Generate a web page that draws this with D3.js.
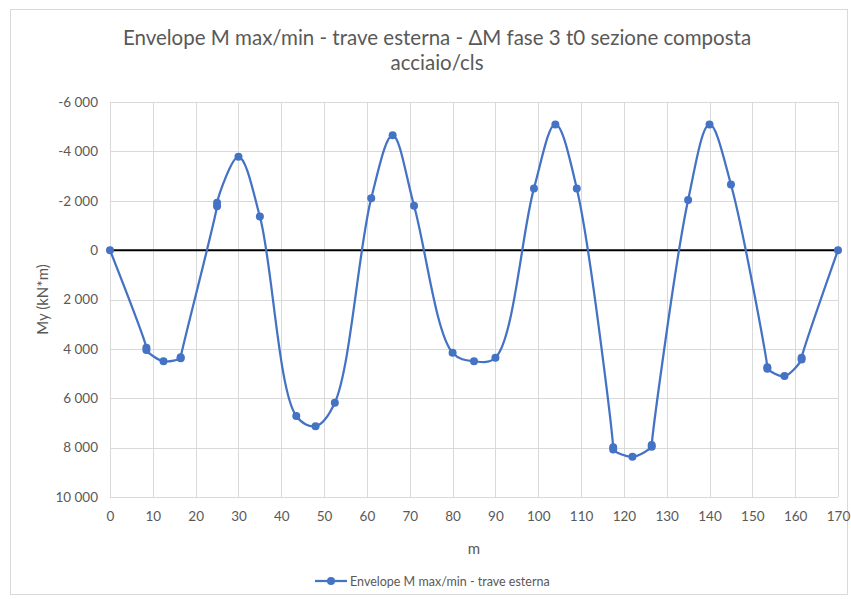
<!DOCTYPE html>
<html>
<head>
<meta charset="utf-8">
<script src="https://cdn.jsdelivr.net/npm/d3@7"></script>
<style>
  html, body { margin: 0; padding: 0; background: #fff; }
  svg { display: block; font-family: Lato, "Open Sans", "Liberation Sans", sans-serif; }
</style>
</head>
<body>
<svg id="chart" width="851" height="599"></svg>
<script>
// Stations along the beam (m) and the bending moment envelope My (kN*m)
const stations = [0, 8.5, 8.5, 12.5, 16.5, 16.5, 25, 25, 30, 35, 43.5, 48, 52.5, 61, 66, 71,
  80, 85, 90, 99, 104, 109, 117.5, 117.5, 122, 126.5, 126.5, 135, 140, 145,
  153.5, 153.5, 157.5, 161.5, 161.5, 170];
const moments = [0, 3950, 4050, 4500, 4380, 4340, -1780, -1920, -3780, -1360, 6720, 7130, 6180, -2100, -4650, -1800,
  4160, 4500, 4360, -2500, -5090, -2500, 7980, 8080, 8370, 7960, 7890, -2030, -5090, -2660,
  4740, 4800, 5100, 4430, 4360, 0];

const xTicks = [0, 10, 20, 30, 40, 50, 60, 70, 80, 90, 100, 110, 120, 130, 140, 150, 160, 170];
const yTicks = [-6000, -4000, -2000, 0, 2000, 4000, 6000, 8000, 10000];

const titleLines = ["Envelope M max/min - trave esterna - \u0394M fase 3 t0 sezione composta", "acciaio/cls"];
const yLabel = "My (kN*m)";
const xLabel = "m";
const seriesName = "Envelope M max/min - trave esterna";

const svg = d3.select("#chart");
const plot = { left: 110, right: 838, top: 102, bottom: 497 };
const blue = "#4472C4", textGrey = "#595959", gridGrey = "#d9d9d9";

// Outer chart frame
svg.append("rect")
  .attr("x", 10.5).attr("y", 9.5).attr("width", 837).attr("height", 585)
  .attr("fill", "#fff").attr("stroke", "#d9d9d9").attr("stroke-width", 1);

const x = d3.scaleLinear().domain([0, 170]).range([plot.left, plot.right]);
const y = d3.scaleLinear().domain([-6000, 10000]).range([plot.top, plot.bottom]);

// Thousands grouped with a space, plain hyphen for negatives
const fmtY = d => d3.format(",")(d).replace(/,/g, " ").replace("\u2212", "-");

// Gridlines
svg.append("g").selectAll("line").data(yTicks).join("line")
  .attr("x1", plot.left).attr("x2", plot.right)
  .attr("y1", d => Math.round(y(d)) + 0.5).attr("y2", d => Math.round(y(d)) + 0.5)
  .attr("stroke", gridGrey).attr("stroke-width", 1);
svg.append("g").selectAll("line").data(xTicks).join("line")
  .attr("x1", d => Math.round(x(d)) + 0.5).attr("x2", d => Math.round(x(d)) + 0.5)
  .attr("y1", plot.top).attr("y2", plot.bottom)
  .attr("stroke", gridGrey).attr("stroke-width", 1);

// Axes (labels only)
const yAxis = d3.axisLeft(y).tickValues(yTicks).tickSize(0).tickPadding(12).tickFormat(fmtY);
svg.append("g").attr("transform", `translate(${plot.left},0)`).call(yAxis)
  .call(g => g.select(".domain").remove())
  .call(g => g.selectAll("text").attr("fill", textGrey).style("font-size", "13.5px")
    .style("font-family", "Lato, 'Open Sans', sans-serif"));

const xAxis = d3.axisBottom(x).tickValues(xTicks).tickSize(0).tickPadding(14).tickFormat(d3.format("d"));
svg.append("g").attr("transform", `translate(0,${plot.bottom})`).call(xAxis)
  .call(g => g.select(".domain").remove())
  .call(g => g.selectAll("text").attr("fill", textGrey).style("font-size", "13.5px")
    .style("font-family", "Lato, 'Open Sans', sans-serif"));

// Zero line
svg.append("line")
  .attr("x1", plot.left).attr("x2", plot.right)
  .attr("y1", y(0)).attr("y2", y(0))
  .attr("stroke", "#000").attr("stroke-width", 2);

// Series
const pts = stations.map((s, i) => [s, moments[i]]);
const line = d3.line().x(d => x(d[0])).y(d => y(d[1])).curve(d3.curveCatmullRom.alpha(0.5));
svg.append("path").datum(pts)
  .attr("d", line).attr("fill", "none")
  .attr("stroke", blue).attr("stroke-width", 2.25).attr("stroke-linejoin", "round");
svg.append("g").selectAll("circle").data(pts).join("circle")
  .attr("cx", d => x(d[0])).attr("cy", d => y(d[1])).attr("r", 4)
  .attr("fill", blue);

// Title
const title = svg.append("text").attr("text-anchor", "middle").attr("fill", textGrey)
  .style("font-size", "20.5px");
titleLines.forEach((t, i) => {
  title.append("tspan").attr("x", 437).attr("y", 45 + i * 25).text(t);
});

// Axis titles
svg.append("text").attr("transform", `translate(48,${(plot.top + plot.bottom) / 2}) rotate(-90)`)
  .attr("text-anchor", "middle").attr("fill", textGrey).style("font-size", "15px")
  .text(yLabel);
svg.append("text").attr("x", (plot.left + plot.right) / 2).attr("y", 554)
  .attr("text-anchor", "middle").attr("fill", textGrey).style("font-size", "15px")
  .text(xLabel);

// Legend
const lg = svg.append("g").attr("transform", "translate(315,581)");
lg.append("line").attr("x1", 0).attr("x2", 32).attr("y1", 0).attr("y2", 0)
  .attr("stroke", blue).attr("stroke-width", 2.25);
lg.append("circle").attr("cx", 16).attr("cy", 0).attr("r", 4).attr("fill", blue);
lg.append("text").attr("x", 35).attr("y", 4.5).attr("fill", textGrey)
  .style("font-size", "12.5px").text(seriesName);
</script>
</body>
</html>
